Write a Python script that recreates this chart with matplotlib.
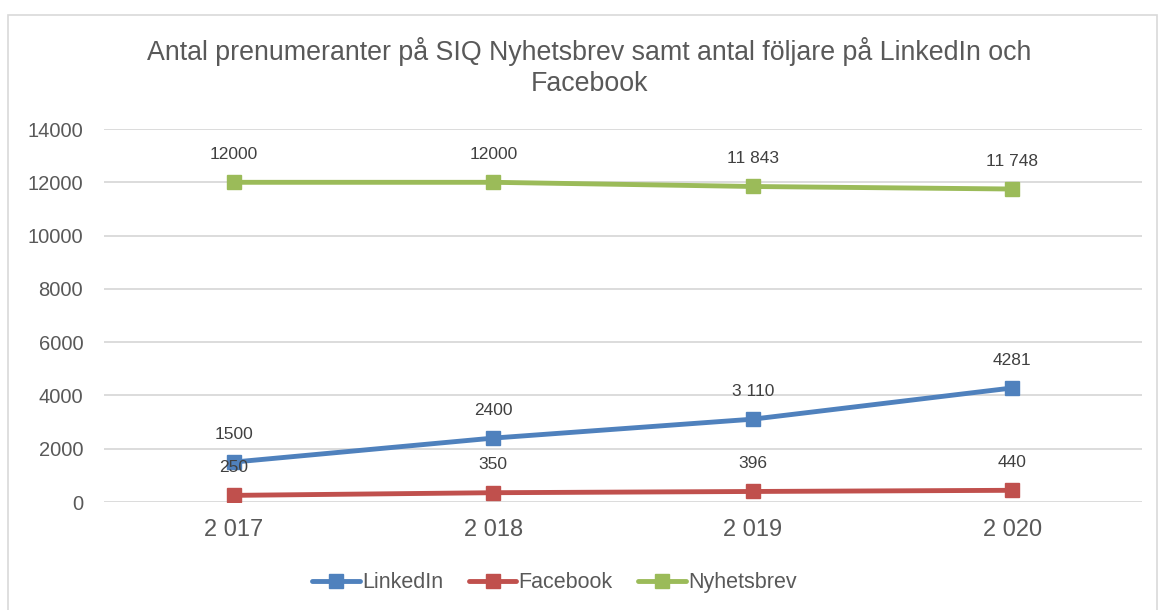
import matplotlib.pyplot as plt
from matplotlib.patches import Rectangle

# Data
years = ['2 017', '2 018', '2 019', '2 020']
linkedin = [1500, 2400, 3110, 4281]
facebook = [250, 350, 396, 440]
nyhetsbrev = [12000, 12000, 11843, 11748]

linkedinLabels = ['1500', '2400', '3 110', '4281']
facebookLabels = ['250', '350', '396', '440']
nyhetsbrevLabels = ['12000', '12000', '11 843', '11 748']

plt.rcParams['font.family'] = ['Liberation Sans', 'DejaVu Sans']
textColor = '#595959'

fig = plt.figure(figsize=(11.6, 6.1), dpi=100)
ax = fig.add_axes([0.0897, 0.177, 0.8948, 0.6115])

# Chart border
fig.patches.append(Rectangle((8 / 1160, -0.01), 1149 / 1160, 1 - 15 / 610 + 0.01,
                             transform=fig.transFigure, fill=False,
                             edgecolor='#D9D9D9', linewidth=1.2))

x = range(len(years))
series = [
    ('LinkedIn', linkedin, linkedinLabels, '#4F81BD'),
    ('Facebook', facebook, facebookLabels, '#C0504D'),
    ('Nyhetsbrev', nyhetsbrev, nyhetsbrevLabels, '#9BBB59'),
]
for name, vals, labels, color in series:
    ax.plot(x, vals, color=color, linewidth=3.5, marker='s', markersize=10,
            label=name, solid_capstyle='round')
    for xi, v, lab in zip(x, vals, labels):
        ax.annotate(lab, (xi, v), xytext=(0, 20), textcoords='offset points',
                    ha='center', va='center', fontsize=12.5, color='#404040')

ax.set_xlim(-0.5, 3.5)
ax.set_ylim(0, 14000)
ax.set_yticks(range(0, 14001, 2000))
ax.set_xticks(list(x))
ax.set_xticklabels(years)
ax.grid(axis='y', color='#D9D9D9', linewidth=1.3)
ax.set_axisbelow(True)
for s in ax.spines.values():
    s.set_visible(False)
ax.tick_params(axis='both', length=0, colors=textColor)
ax.tick_params(axis='y', labelsize=14.5, pad=15)
ax.tick_params(axis='x', labelsize=17, pad=12)

fig.suptitle('Antal prenumeranter på SIQ Nyhetsbrev samt antal följare på LinkedIn och\nFacebook',
             x=0.508, y=0.94, fontsize=19.3, color=textColor, linespacing=1.25)

fig.legend(loc='center', bbox_to_anchor=(0.478, 0.045), ncol=3, frameon=False,
           fontsize=15.5, labelcolor=textColor, handlelength=2.2,
           handletextpad=0.1, columnspacing=1.2)

fig.savefig('out.png', dpi=100)
